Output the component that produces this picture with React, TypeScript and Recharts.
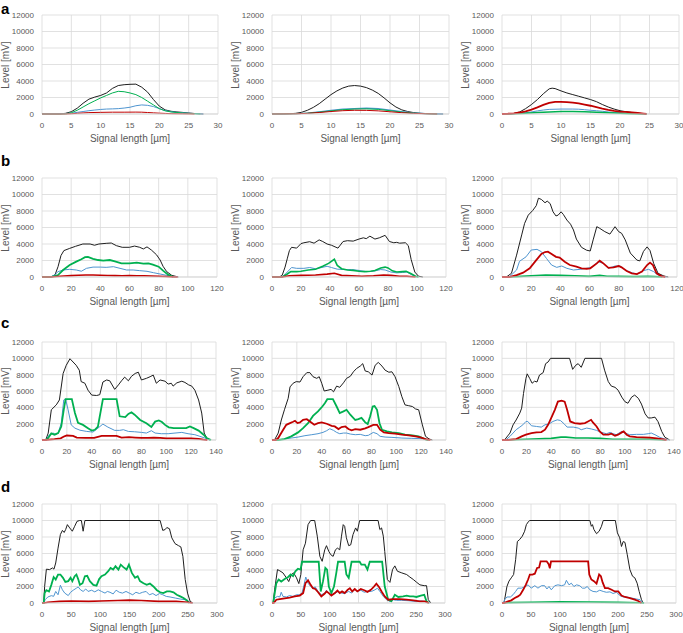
import React from 'react';
import { LineChart, Line, XAxis, YAxis, CartesianGrid } from 'recharts';

type Pt = [number, number];

const Y_TICKS = [0, 2000, 4000, 6000, 8000, 10000, 12000];
const X_TICKS_A = [0, 5, 10, 15, 20, 25, 30];
const X_TICKS_B = [0, 20, 40, 60, 80, 100, 120];
const X_TICKS_C = [0, 20, 40, 60, 80, 100, 120, 140];
const X_TICKS_D = [0, 50, 100, 150, 200, 250, 300];

const X_TITLE = 'Signal length [µm]';
const Y_TITLE = 'Level [mV]';
const ROW_LABELS = ['a', 'b', 'c', 'd'];

// ---- row a ----
const A1_BLACK: Pt[] = [[0,0],[3,0],[4,80],[5,280],[6,700],[7,1300],[8,1800],[9,2050],[10,2250],[11,2550],[12,3100],[13,3450],[14,3550],[15,3600],[16,3620],[17,3250],[18,2650],[19,1750],[20,950],[21,500],[22,330],[23,250],[24,190],[25,120],[26,60],[27,20],[27.5,0]];
const A1_BLUE: Pt[] = [[0,0],[2,30],[4,60],[5,100],[6,200],[7,300],[8,400],[9,480],[10,550],[11,600],[12,620],[13,650],[14,720],[15,820],[16,1000],[17,1100],[18,1050],[19,900],[20,650],[21,420],[22,280],[23,200],[24,150],[25,100],[26,50],[27,20],[27.5,0]];
const A1_GREEN: Pt[] = [[0,0],[4,0],[5,150],[6,450],[7,850],[8,1250],[9,1600],[10,1950],[11,2250],[12,2550],[13,2750],[14,2700],[15,2550],[16,2350],[17,2000],[18,1550],[19,1100],[20,650],[21,380],[22,250],[23,180],[24,120],[25,70],[26,30],[27,0]];
const A1_RED: Pt[] = [[0,0],[4,0],[5,30],[6,80],[7,130],[8,170],[10,200],[12,220],[14,220],[16,230],[17,220],[18,180],[19,140],[20,100],[21,70],[22,40],[24,20],[26,0]];

const A2_BLACK: Pt[] = [[0,0],[2,0],[3,30],[4,80],[5,200],[6,450],[7,800],[8,1250],[9,1800],[10,2350],[11,2800],[12,3150],[13,3380],[14,3450],[15,3380],[16,3200],[17,2900],[18,2500],[19,1950],[20,1350],[21,850],[22,500],[23,300],[24,170],[25,90],[26,50],[27,20],[29,0]];
const A2_BLUE: Pt[] = [[0,0],[4,30],[6,100],[8,250],[10,430],[12,580],[14,660],[16,700],[18,650],[20,480],[22,280],[24,130],[26,50],[28,10],[29,0]];
const A2_GREEN: Pt[] = [[0,0],[4,30],[6,90],[8,220],[10,380],[12,520],[14,600],[16,620],[18,560],[20,400],[22,230],[24,100],[26,40],[28,0]];
const A2_RED: Pt[] = [[0,0],[4,20],[6,80],[8,180],[10,300],[12,400],[14,450],[16,440],[18,380],[20,270],[22,160],[24,80],[26,30],[28,0]];

const A3_BLACK: Pt[] = [[0,0],[1,0],[2,50],[3,250],[4,650],[5,1150],[6,1750],[7,2450],[8,3050],[8.5,3130],[9,3080],[10,2800],[11,2550],[12,2350],[13,2150],[14,1950],[15,1750],[16,1500],[17,1150],[18,850],[19,600],[20,400],[21,280],[22,180],[23,100],[24,40],[24.5,0]];
const A3_BLUE: Pt[] = [[0,0],[2,30],[3,80],[4,150],[5,250],[6,380],[7,480],[8,560],[10,600],[12,600],[13,580],[14,520],[15,450],[16,400],[17,330],[18,250],[19,180],[20,130],[22,70],[24,20],[24.5,0]];
const A3_GREEN: Pt[] = [[0,0],[2,20],[4,80],[6,170],[8,250],[10,290],[12,300],[14,270],[16,220],[18,150],[20,90],[22,40],[24,10],[24.5,0]];
const A3_RED: Pt[] = [[0,0],[1,30],[2,80],[3,180],[4,330],[5,520],[6,800],[7,1100],[8,1350],[9,1480],[10,1480],[11,1450],[12,1380],[13,1280],[14,1150],[15,1000],[16,820],[17,650],[18,500],[19,380],[20,300],[21,250],[22,180],[23,120],[24,50],[24.5,0]];

// ---- row b ----
const B1_BLACK: Pt[] = [[0,0],[5,0],[7,80],[9,300],[11,1250],[13,2600],[15,3200],[19,3470],[23,3720],[28,4000],[33,4000],[36,3850],[39,4000],[44,4080],[47.5,4120],[51,3800],[55,3600],[60,3600],[63.5,3750],[67,3600],[69.5,3400],[72,3650],[75,3270],[78.5,2700],[81,2060],[83,1300],[85.5,650],[89,200],[93.5,0]];
const B1_BLUE: Pt[] = [[0,0],[6,0],[9,300],[11,650],[14.5,850],[19,930],[23.5,850],[27,700],[30.5,1050],[35,1200],[40,1200],[44,1170],[49,1250],[53.5,1050],[58,850],[62.5,850],[67,770],[72,690],[76.5,520],[81,360],[85.5,200],[90,40],[93,0]];
const B1_GREEN: Pt[] = [[0,0],[6,0],[11,240],[14.5,850],[19,1450],[23.5,1860],[27,2150],[29.5,2400],[31.5,2430],[35,2200],[38.5,2060],[42,1980],[46.5,2060],[50,1900],[54.5,1650],[60,1650],[65,1740],[69.5,1620],[73,1660],[76,1500],[80,1250],[83,770],[86.5,280],[90,0]];
const B1_RED: Pt[] = [[0,0],[6,0],[10,60],[15,120],[20,170],[25,220],[30,250],[35,240],[40,220],[45,190],[50,170],[55,160],[60,170],[65,160],[70,150],[75,130],[80,100],[85,60],[90,10],[93,0]];

const B2_BLACK: Pt[] = [[0,0],[5,0],[7,200],[9,1200],[10.5,2200],[12,3200],[13.5,3600],[17,3500],[20,4050],[22,4150],[26,4280],[29,4100],[32.5,4500],[35,4300],[38,4000],[41,3850],[45.5,3500],[49,4300],[52,4400],[56,4350],[60,4600],[63,4750],[65,4650],[67.5,4950],[71,4600],[74,4750],[78,5050],[81,4300],[84,4150],[86,4200],[88,4100],[92,4150],[94,3800],[96,2100],[98.5,600],[101,100],[104,0]];
const B2_BLUE: Pt[] = [[0,0],[7,0],[10,500],[13.5,1150],[17,1050],[22,1050],[26,1150],[30,1000],[33,1100],[38,1300],[41,1150],[45,950],[50,900],[55,900],[60,800],[65,650],[70,700],[75,900],[78,850],[82,600],[86,500],[90,550],[93,600],[96,300],[99,50],[101,0]];
const B2_GREEN: Pt[] = [[0,0],[7,0],[10,300],[13,650],[17,650],[20,700],[25,850],[30,930],[35,1300],[39,1650],[43,2150],[45,1400],[48,1000],[52,850],[56,800],[60,700],[64,650],[68,700],[71,780],[75,1100],[78,1200],[80,1100],[83,750],[86,600],[90,650],[92.5,680],[96,400],[99,100],[101,0]];
const B2_RED: Pt[] = [[0,0],[7,0],[12,150],[20,200],[30,250],[38,350],[43,450],[48,200],[55,150],[62,100],[70,150],[77,250],[82,200],[88,100],[93,100],[99,0]];

const B3_BLACK: Pt[] = [[0,0],[3,0],[6.5,450],[10,2650],[13.5,5100],[15.5,6500],[18,7500],[21,8050],[23.5,8650],[25,9550],[27,9400],[29.5,9000],[31,9200],[33,8900],[35,7900],[37,7400],[38.5,7500],[40.5,7900],[42,7600],[44.5,6900],[47,6400],[49,5700],[51,4600],[54.5,3600],[58,3250],[60.5,3150],[62.5,4500],[65,6100],[67,5900],[70.5,5500],[74,5200],[77.5,6100],[80,5500],[82,5300],[84.5,4500],[88,2900],[92.5,2050],[94.5,1950],[97,3100],[99.5,3650],[101.5,3200],[104,1650],[107,450],[111,120],[114,0]];
const B3_BLUE: Pt[] = [[0,0],[5,0],[10,850],[12,1900],[16.5,2450],[20,3270],[24,3350],[27,3070],[30.5,2250],[34,1450],[37.5,1170],[41,1330],[44.5,1050],[49,850],[53.5,930],[58,1050],[61.5,1170],[66,1850],[69.5,1650],[73,1050],[77.5,1330],[81,1330],[84.5,850],[89,520],[92.5,360],[97,770],[100.5,930],[104,650],[107,240],[111,40],[113,0]];
const B3_GREEN: Pt[] = [[0,0],[5,0],[10,50],[20,150],[30,250],[40,200],[50,150],[60,80],[67,200],[72,100],[80,80],[90,50],[100,80],[105,40],[110,0]];
const B3_RED: Pt[] = [[0,0],[5,0],[10,240],[14.5,520],[19,1050],[23.5,2050],[27,2800],[29.5,3030],[31.5,3070],[34,2800],[37,2450],[39.5,2350],[43,1850],[46.5,1450],[51,1250],[54.5,1050],[58,1000],[60.5,1050],[65,1650],[67,1980],[69.5,1650],[73,1100],[76.5,1170],[80,1330],[82,1170],[85.5,730],[89,450],[92.5,360],[96,650],[99.5,1450],[101.5,1750],[103.5,1450],[106,450],[109.5,80],[112,0]];

// ---- row c ----
const C1_BLACK: Pt[] = [[0,0],[3,0],[5,850],[7.5,3700],[11.5,4300],[14,4900],[17,8150],[19.5,9150],[22.5,9950],[25,9550],[27.5,9150],[30,8550],[31.5,7150],[34.5,6950],[37,6100],[40,5500],[44,5450],[46.5,5550],[49,7100],[52,7350],[54.5,7250],[58.5,6200],[61.5,6750],[64,7250],[66.5,7700],[69.5,7250],[72,7800],[75,8150],[77.5,8300],[80,7350],[84,7550],[87,7750],[89.5,7950],[91,7350],[92,6950],[95,7350],[99,7200],[101.5,6850],[104,6950],[105.5,6600],[108.5,7000],[112.5,7200],[115,7050],[118,6750],[120.5,6600],[123,6100],[126,4900],[128.5,3300],[130.5,850],[132.5,250],[135,0]];
const C1_BLUE: Pt[] = [[0,0],[3,0],[6,650],[9,850],[11,650],[13,850],[15.5,2050],[17.5,4900],[19,5000],[21,3700],[23.5,1850],[26.5,1450],[30.5,1200],[36,1050],[41,970],[45,1450],[49,1950],[53,1580],[58.5,1180],[62.5,1180],[65.5,1260],[69.5,1050],[74.5,1010],[80,930],[84,850],[88,1140],[91,850],[96,770],[101.5,770],[107,850],[112.5,930],[117.5,770],[123,650],[127,450],[131,240],[135,0]];
const C1_GREEN: Pt[] = [[0,0],[3,0],[5,250],[7.5,800],[10,650],[13,850],[15.5,1650],[17.5,3700],[19,5000],[24,5000],[26.5,3300],[29,2100],[33,1850],[37,1450],[40,1150],[42.5,1250],[45,1650],[49,5000],[60,5000],[62.5,2900],[67,2800],[69.5,3200],[72,3400],[74.5,3100],[79,2450],[84,2050],[88,1600],[91,2250],[94,2400],[96.5,2200],[99,1850],[102,1550],[106,1450],[116,1450],[119,1650],[122,1450],[126,1150],[130,650],[132.5,250],[136,0]];
const C1_RED: Pt[] = [[0,0],[3,0],[10,100],[15,200],[18,450],[20,550],[25,500],[28,300],[35,250],[42,250],[48,500],[55,500],[60,500],[64,300],[70,350],[75,300],[80,250],[85,250],[90,300],[95,250],[100,200],[110,200],[120,200],[126,150],[130,50],[133,0]];

const C2_BLACK: Pt[] = [[0,0],[2,0],[5,850],[7.5,2450],[10,3700],[13,5100],[14.5,6500],[17,6950],[19.5,7150],[22.5,7100],[25,7750],[28,8250],[30.5,8250],[33,7750],[36,7550],[38,7750],[40,6950],[42,6000],[45,6100],[47.5,6200],[49.5,5900],[52,6600],[54.5,6450],[57.5,7000],[60,7550],[63,7800],[65.5,8350],[68,8750],[71,9050],[73,9350],[75,8450],[77.5,8350],[80.5,7950],[83,9150],[85.5,9500],[88.5,9050],[91,8550],[94,8300],[96.5,8350],[99,7750],[102,6550],[104.5,5300],[107,4300],[110,4200],[113,4100],[115.5,3800],[118,3700],[121,1850],[123.5,450],[126.5,120],[129,0]];
const C2_BLUE: Pt[] = [[0,0],[5,0],[10,120],[15.5,240],[21,360],[26.5,530],[32,650],[37,770],[41,930],[44,1140],[46.5,1380],[49.5,1180],[52,930],[54.5,770],[57.5,850],[60,850],[63,730],[67,650],[71,690],[75,530],[77.5,570],[81.5,930],[84.5,770],[87,450],[91,360],[96.5,320],[104.5,240],[112.5,200],[121,160],[126,0]];
const C2_GREEN: Pt[] = [[0,0],[5,0],[10,120],[15.5,450],[21,930],[25,1450],[29,2050],[33,2950],[37,3500],[40.5,4100],[42.5,4500],[44.5,5000],[49,5000],[52,4100],[54.5,3300],[57.5,3500],[60,3700],[63,3100],[67,2450],[69.5,2550],[72,2700],[75,2150],[77,1950],[79,2900],[81,4100],[82.5,4150],[84.5,3700],[86.5,2050],[88.5,1250],[92.5,1050],[96.5,930],[102,850],[107,650],[113,570],[118,450],[121,240],[124,40],[126,0]];
const C2_RED: Pt[] = [[0,0],[3,0],[5,240],[9,1260],[11.5,1860],[14.5,2070],[17,2230],[18.5,2350],[20.5,2070],[22.5,2150],[25,2470],[28,2550],[30.5,2270],[34,1860],[37,2070],[40,2150],[44,1990],[48,1740],[50.5,1660],[53.5,1340],[56,1580],[59,1660],[61.5,1340],[64,1180],[67,1340],[71,1260],[75,1420],[77.5,1580],[81.5,1860],[84.5,1860],[87,1260],[90,930],[94,850],[99,770],[104.5,650],[110,570],[115.5,450],[119.5,320],[123.5,120],[127.5,0]];

const C3_BLACK: Pt[] = [[0,0],[2,0],[6.5,850],[9,1850],[11.5,2450],[14.5,3300],[16,3900],[17.5,5700],[19.5,7550],[20.5,8100],[22.5,7550],[24.5,6950],[26.5,7200],[28.5,7100],[30.5,7950],[33.5,8250],[35.5,9350],[37.5,9550],[39.5,10000],[55,10000],[57.5,8650],[60,9150],[62,9350],[64.5,8900],[67.5,10000],[81,10000],[83.5,8550],[86.5,7150],[89,6600],[92,6450],[94.5,6100],[97.5,5250],[100,4700],[102.5,4500],[105.5,5250],[108,5500],[111,5100],[113.5,4400],[116.5,3200],[119,2700],[121.5,2700],[124.5,2800],[127,2250],[130,1050],[132.5,350],[136.5,0]];
const C3_BLUE: Pt[] = [[0,0],[3,0],[6.5,450],[9,850],[11.5,1260],[14.5,1580],[17,1860],[19.5,2270],[21,2270],[24,1740],[28,1660],[32,1580],[35,1860],[38.5,1990],[41.5,2270],[45,2470],[47.5,2390],[50.5,1990],[53,1580],[58,1580],[62,1460],[64.5,1260],[69,1460],[73,1340],[77,1180],[81,930],[85,770],[88,930],[90.5,770],[93,650],[97.5,1050],[100,850],[104,650],[109.5,690],[115,690],[119,770],[121.5,850],[124.5,650],[128.5,320],[132.5,120],[135.5,0]];
const C3_GREEN: Pt[] = [[0,0],[3,0],[20,100],[40,200],[48,350],[52,350],[60,250],[70,250],[80,200],[90,100],[100,100],[120,100],[133,0]];
const C3_RED: Pt[] = [[0,0],[5,0],[11.5,120],[16,450],[19.5,650],[24,850],[28,930],[32,970],[35,1260],[37.5,1860],[40,2680],[43,3690],[45.5,4700],[48.5,4820],[51,4700],[53,3690],[55.5,2270],[59,2070],[63.5,1990],[67.5,2070],[70,2270],[72.5,2470],[74,2150],[77,1660],[79.5,1050],[82.5,650],[86.5,650],[89,770],[92,530],[94.5,650],[97.5,930],[99,1050],[101.5,650],[104,450],[109.5,360],[115,320],[120.5,280],[126,200],[130,120],[134,0]];

// ---- row d ----
const D1_BLACK: Pt[] = [[0,0],[3,0],[4.5,2000],[7.5,4100],[13,4050],[18,4250],[20.5,4100],[23.5,4850],[27.5,6650],[31.5,8300],[35,8800],[38,8550],[40.5,8900],[43.5,9500],[47.5,9100],[52,8700],[56,9300],[60,9900],[64.5,10000],[67.5,10000],[70.5,8700],[73.5,10000],[202.5,10000],[207,8800],[211,8900],[214,9150],[218.5,9000],[222.5,7900],[228,7200],[234,6950],[238,6800],[241.5,5650],[245.5,2850],[249.5,1200],[254,200],[258.5,0]];
const D1_BLUE: Pt[] = [[0,0],[3,0],[5.5,400],[10,730],[16,890],[20,810],[23.5,1400],[27.5,1000],[31.5,2150],[35,1600],[39,1200],[45,900],[49,1300],[53.5,1550],[59,1800],[62,1950],[66,1600],[70.5,1400],[75,1700],[79,1400],[85,1550],[90.5,1350],[96.5,1600],[102,1400],[108,1200],[112,1400],[116.5,1300],[122,1100],[127,1550],[132.5,1300],[138,1200],[144,1400],[149.5,1200],[155.5,1000],[161,1300],[167,1150],[172.5,1300],[178.5,1400],[184,1000],[190,1150],[195.5,900],[201.5,1150],[207,1000],[213,800],[219.5,730],[228.5,600],[237,480],[245.5,400],[251.5,200],[255.5,0]];
const D1_GREEN: Pt[] = [[0,0],[3,0],[4.5,1200],[7.5,1550],[12,1400],[16,2200],[20,3150],[23.5,2850],[27.5,3450],[31.5,3450],[36,3050],[40,2550],[45,2650],[49,3050],[52,2650],[56,3250],[59,3450],[62,2900],[65,2200],[69.5,2400],[73.5,3250],[77.5,3300],[82,2650],[88,2200],[93.5,2100],[98,2900],[102,3250],[108,3450],[113.5,3850],[117.5,4250],[122,4050],[126,4450],[131,4050],[135,4650],[139.5,4350],[145,4050],[149,4650],[154,3650],[159.5,3050],[164,3250],[168,2650],[174,2400],[179.5,2200],[185,2350],[191,2000],[197,1550],[202.5,1300],[208,1200],[214,1400],[219.5,1400],[225.5,1300],[231,1000],[237,800],[242.5,600],[248.5,300],[252,0]];
const D1_RED: Pt[] = [[0,0],[3,0],[10,100],[30,200],[50,250],[80,200],[100,250],[130,300],[150,350],[170,300],[200,200],[230,200],[250,100],[258,0]];

const D2_BLACK: Pt[] = [[0,0],[2,0],[4.5,1600],[9.5,4050],[13.5,3900],[19,3650],[25,3050],[29,2600],[33.5,3450],[37.5,3650],[42.5,3050],[46.5,2350],[50,3450],[54,6450],[58,7250],[62.5,9500],[67,10000],[74,10000],[78.5,8100],[83,5650],[87,5050],[91.5,6450],[94.5,6950],[98.5,6250],[102,5850],[106,5650],[110,6450],[113.5,6650],[117.5,6450],[120.5,8100],[123.5,9500],[126,9300],[129,7900],[133,6950],[136.5,7050],[140.5,8300],[145,9100],[148,8700],[152,10000],[184,10000],[187,8900],[190,9100],[193,8100],[195.5,6250],[200,2850],[204.5,2500],[209,4050],[213,4500],[217.5,3850],[225,3650],[233.5,3450],[239,3150],[245,2850],[251,2500],[256.5,2200],[264,2100],[268,2100],[271,400],[275.5,0]];
const D2_BLUE: Pt[] = [[0,0],[2,0],[4.5,600],[9.5,800],[13.5,730],[16,1300],[19,800],[25,730],[30.5,900],[36.5,800],[42.5,1000],[48,1000],[52,1200],[55.5,2200],[58.5,3150],[62.5,2400],[67,2000],[71,1800],[75,1950],[80,1400],[85.5,1000],[91.5,1200],[94.5,1550],[98.5,1200],[103,1000],[109,1150],[114.5,1400],[120.5,1200],[126,1150],[133,1400],[138,1200],[143.5,1700],[148,1400],[154,1550],[160,1300],[165.5,1400],[172.5,1400],[178.5,1600],[183,1800],[187,1400],[193,800],[198.5,400],[204.5,200],[210,400],[216,320],[224.5,320],[236,280],[248,200],[259.5,250],[268,160],[274,0]];
const D2_GREEN: Pt[] = [[0,0],[2,0],[7.5,2400],[11.5,2850],[16,2600],[22,2900],[28,3150],[32.5,3450],[36.5,3250],[40.5,3850],[45,4150],[49.5,4050],[52,5000],[81,5000],[84.5,1400],[88.5,2650],[92.5,4250],[95.5,4050],[98.5,2000],[103,1200],[107.5,2000],[111.5,3650],[114.5,5000],[126,5000],[129,3450],[133,3050],[138,5000],[152,5000],[155,4650],[161,4650],[165.5,4050],[169.5,5000],[191,5000],[195.5,2000],[201.5,400],[207,200],[213,1000],[219,730],[227.5,800],[233.5,900],[239,800],[245,800],[250.5,730],[258,900],[264,1000],[268,200],[272,0]];
const D2_RED: Pt[] = [[0,0],[3,0],[7.5,400],[13.5,480],[22,560],[30.5,650],[39.5,800],[48,900],[54,1200],[58,2400],[62.5,2750],[67,2200],[71,1800],[75,1700],[80,1300],[85.5,800],[91.5,1150],[94.5,1400],[98.5,1200],[103,900],[109,1200],[113.5,1500],[117.5,1200],[121.5,1400],[126,1200],[131,1600],[135,1800],[139,1400],[143.5,1700],[148,1400],[154,1700],[160,1550],[165.5,1350],[171.5,1600],[177,2000],[181,2350],[185.5,1950],[190,1400],[195.5,800],[201.5,400],[210,480],[221.5,480],[233.5,400],[245,320],[256.5,200],[265,200],[272,0]];

const D3_BLACK: Pt[] = [[0,0],[3,0],[4.5,400],[8.5,2000],[12,2650],[16,3050],[20,3450],[23.5,5250],[26.5,7450],[30.5,7700],[35,8100],[39,8700],[42,9500],[46,9900],[48,10000],[151.5,10000],[154,9300],[156,9500],[158.5,8900],[163,8400],[167.5,8700],[171.5,9300],[174.5,10000],[195.5,10000],[199,8500],[203,7900],[206,6850],[209,7450],[212,7350],[216,5850],[220.5,4050],[225,3250],[229,3050],[233,2400],[236.5,1400],[240.5,400],[243.5,0]];
const D3_BLUE: Pt[] = [[0,0],[3,0],[4.5,400],[8.5,730],[14.5,730],[19,1000],[23.5,1400],[27.5,1800],[33.5,1800],[39,1950],[45,2200],[50.5,1800],[56.5,2100],[62,1800],[68,2100],[73.5,2100],[77.5,1700],[81,2000],[85,1600],[91,2100],[96.5,2200],[102.5,2100],[108,2200],[111,2750],[115.5,2200],[119.5,2400],[124,2000],[128.5,2200],[134,2100],[138.5,1800],[143,1800],[147,2000],[151.5,1600],[157,1400],[163,1350],[168.5,1550],[174.5,1400],[180,1300],[186,1350],[191.5,1150],[197.5,1300],[203,900],[209,730],[214.5,730],[223.5,600],[232,480],[238,400],[242.5,80],[244.5,0]];
const D3_GREEN: Pt[] = [[0,0],[3,0],[10,50],[50,100],[100,150],[150,120],[200,80],[240,30],[245,0]];
const D3_RED: Pt[] = [[0,0],[3,0],[10.5,200],[16,320],[22,600],[27.5,800],[31.5,1000],[36.5,1600],[41,2200],[45,2850],[48,3450],[52.5,3450],[56.5,3550],[60.5,4250],[64,4300],[66.5,5050],[77,5050],[80.5,4700],[82.5,4200],[84.5,5050],[148.5,5050],[150.5,3450],[154,2850],[158.5,2650],[163,2350],[167.5,3450],[170.5,3250],[173.5,2500],[177.5,1800],[183,1800],[189,1600],[194.5,1400],[200.5,1400],[206,900],[212,730],[220.5,600],[229,400],[235,240],[240.5,0]];

const COLORS = {
  black: '#1e1e1e',
  blue: '#4f95d0',
  green: '#00b050',
  red: '#c00000',
};

const GRID = '#d9d9d9';
const TEXT = '#595959';
const FONT = '"Liberation Sans", Arial, sans-serif';

interface PanelDef {
  row: number;
  L: number; R: number; T: number; B: number;
  xTicks: number[];
  black: Pt[]; blue: Pt[]; green: Pt[]; red: Pt[];
  w: [number, number, number, number]; // black, blue, green, red
}

const ROW_TB = [
  { T: 15, B: 114 },
  { T: 178, B: 277 },
  { T: 342, B: 440 },
  { T: 504, B: 603 },
];

const PANELS: PanelDef[] = [
  { row: 0, L: 42, R: 218, ...ROW_TB[0], xTicks: X_TICKS_A, black: A1_BLACK, blue: A1_BLUE, green: A1_GREEN, red: A1_RED, w: [1, 1, 1, 1] },
  { row: 0, L: 272, R: 449, ...ROW_TB[0], xTicks: X_TICKS_A, black: A2_BLACK, blue: A2_BLUE, green: A2_GREEN, red: A2_RED, w: [1, 1.2, 1, 1] },
  { row: 0, L: 502, R: 679, ...ROW_TB[0], xTicks: X_TICKS_A, black: A3_BLACK, blue: A3_BLUE, green: A3_GREEN, red: A3_RED, w: [1, 1, 1.5, 1.8] },
  { row: 1, L: 42, R: 217, ...ROW_TB[1], xTicks: X_TICKS_B, black: B1_BLACK, blue: B1_BLUE, green: B1_GREEN, red: B1_RED, w: [1, 1, 1.8, 1.6] },
  { row: 1, L: 272, R: 446, ...ROW_TB[1], xTicks: X_TICKS_B, black: B2_BLACK, blue: B2_BLUE, green: B2_GREEN, red: B2_RED, w: [1, 1, 1.6, 1.6] },
  { row: 1, L: 502, R: 677, ...ROW_TB[1], xTicks: X_TICKS_B, black: B3_BLACK, blue: B3_BLUE, green: B3_GREEN, red: B3_RED, w: [1, 1, 1.6, 1.8] },
  { row: 2, L: 42, R: 216, ...ROW_TB[2], xTicks: X_TICKS_C, black: C1_BLACK, blue: C1_BLUE, green: C1_GREEN, red: C1_RED, w: [1, 1, 1.8, 1.8] },
  { row: 2, L: 272, R: 446, ...ROW_TB[2], xTicks: X_TICKS_C, black: C2_BLACK, blue: C2_BLUE, green: C2_GREEN, red: C2_RED, w: [1, 1, 1.8, 1.8] },
  { row: 2, L: 502, R: 674, ...ROW_TB[2], xTicks: X_TICKS_C, black: C3_BLACK, blue: C3_BLUE, green: C3_GREEN, red: C3_RED, w: [1, 1, 1.6, 1.8] },
  { row: 3, L: 42, R: 217, ...ROW_TB[3], xTicks: X_TICKS_D, black: D1_BLACK, blue: D1_BLUE, green: D1_GREEN, red: D1_RED, w: [1, 1, 1.8, 1.6] },
  { row: 3, L: 272, R: 445, ...ROW_TB[3], xTicks: X_TICKS_D, black: D2_BLACK, blue: D2_BLUE, green: D2_GREEN, red: D2_RED, w: [1, 1, 1.8, 1.8] },
  { row: 3, L: 502, R: 676, ...ROW_TB[3], xTicks: X_TICKS_D, black: D3_BLACK, blue: D3_BLUE, green: D3_GREEN, red: D3_RED, w: [1, 1, 1.6, 1.8] },
];

const toRows = (pts: Pt[], key: string) => pts.map(([x, y]) => ({ x, [key]: y }));

function Panel({ p }: { p: PanelDef }) {
  const YW = 40, MT = 5, MR = 14, XH = 20;
  const width = p.R - p.L + YW + MR;
  const height = p.B - p.T + MT + XH;
  const xMax = p.xTicks[p.xTicks.length - 1];
  const series: [keyof typeof COLORS, Pt[], number][] = [
    ['black', p.black, p.w[0]],
    ['blue', p.blue, p.w[1]],
    ['green', p.green, p.w[2]],
    ['red', p.red, p.w[3]],
  ];
  return (
    <>
      <div style={{ position: 'absolute', left: p.L - YW, top: p.T - MT }}>
        <LineChart width={width} height={height} margin={{ top: MT, right: MR, bottom: 0, left: 0 }}>
          <CartesianGrid stroke={GRID} strokeWidth={0.8} />
          <XAxis
            type="number"
            dataKey="x"
            domain={[0, xMax]}
            ticks={p.xTicks}
            interval={0}
            allowDataOverflow
            height={XH}
            tickLine={false}
            axisLine={{ stroke: GRID }}
            tick={{ fontSize: 8, fill: TEXT, fontFamily: FONT }}
          />
          <YAxis
            type="number"
            domain={[0, 12000]}
            ticks={Y_TICKS}
            interval={0}
            width={YW}
            tickLine={false}
            axisLine={false}
            tick={{ fontSize: 8, fill: TEXT, fontFamily: FONT }}
          />
          {series.map(([name, pts, sw]) => (
            <Line
              key={name}
              data={toRows(pts, name)}
              dataKey={name}
              type="linear"
              stroke={COLORS[name]}
              strokeWidth={sw}
              dot={false}
              activeDot={false}
              isAnimationActive={false}
            />
          ))}
        </LineChart>
      </div>
      <div
        style={{
          position: 'absolute',
          left: (p.L + p.R) / 2,
          top: p.B + 24,
          transform: 'translate(-50%, -50%)',
          whiteSpace: 'nowrap',
          fontSize: 10,
          color: TEXT,
        }}
      >
        {X_TITLE}
      </div>
      <div
        style={{
          position: 'absolute',
          left: p.L - 37,
          top: (p.T + p.B) / 2,
          transform: 'translate(-50%, -50%) rotate(-90deg)',
          whiteSpace: 'nowrap',
          fontSize: 10,
          color: TEXT,
        }}
      >
        {Y_TITLE}
      </div>
    </>
  );
}

// top of each row letter's box; the first sits just inside the page edge
const LETTER_TOP = [3, 155, 317, 481];

export default function App() {
  return (
    <div
      style={{
        position: 'absolute',
        left: 0,
        top: 0,
        width: 683,
        height: 633,
        overflow: 'hidden',
        background: '#fff',
        fontFamily: FONT,
      }}
    >
      {ROW_LABELS.map((l, i) => (
        <div
          key={l}
          style={{
            position: 'absolute',
            left: 1,
            top: LETTER_TOP[i],
            fontSize: 15,
            lineHeight: '11px',
            fontWeight: 'bold',
            color: '#000',
          }}
        >
          {l}
        </div>
      ))}
      {PANELS.map((p, i) => (
        <Panel key={i} p={p} />
      ))}
    </div>
  );
}
